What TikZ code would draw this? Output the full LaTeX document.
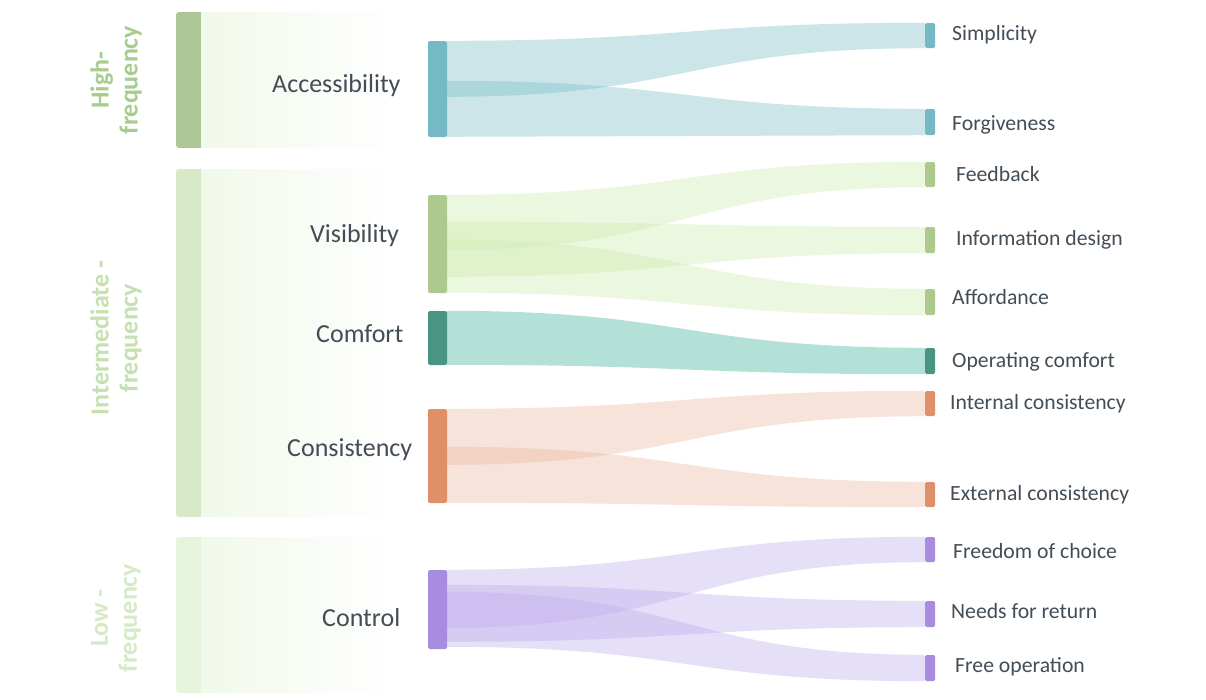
\documentclass[tikz,border=0pt]{standalone}
\usepackage{fontspec}
\setmainfont{Carlito}
\usetikzlibrary{calc}

\pgfdeclarelayer{paper}
\pgfdeclarelayer{ribbons}
\pgfsetlayers{paper,ribbons,main}

% palette
\definecolor{ink}{RGB}{67,77,86}
\definecolor{accN}{RGB}{116,185,196}
\definecolor{accF}{RGB}{125,192,202}
\definecolor{visN}{RGB}{173,201,142}
\definecolor{visF}{RGB}{207,235,177}
\definecolor{comN}{RGB}{74,148,132}
\definecolor{comF}{RGB}{68,180,155}
\definecolor{conN}{RGB}{223,144,104}
\definecolor{conF}{RGB}{235,185,160}
\definecolor{ctlN}{RGB}{167,140,224}
\definecolor{ctlF}{RGB}{192,175,235}
\definecolor{hiBar}{RGB}{173,198,152}
\definecolor{miBar}{RGB}{216,233,201}
\definecolor{loBar}{RGB}{232,245,222}
\definecolor{bandBg}{RGB}{239,248,232}
\definecolor{hiTxt}{RGB}{168,204,140}
\definecolor{miTxt}{RGB}{197,225,175}
\definecolor{loTxt}{RGB}{214,234,199}

% a sankey ribbon: source node, top/bottom offset on its right edge,
% target node (whole left edge), fill colour
\newcommand\sankeyflow[5]{%
  \coordinate (fa) at ([yshift=-#2pt]#1.north east);
  \coordinate (fb) at ([yshift=-#3pt]#1.north east);
  \coordinate (fc) at (#4.north west);
  \coordinate (fd) at (#4.south west);
  \coordinate (fm) at ($(fa)!.5!(fc)$);
  \fill[#5, fill opacity=.4]
    (fa) .. controls (fa -| fm) and (fc -| fm) .. (fc) -- (fd)
         .. controls (fd -| fm) and (fb -| fm) .. (fb) -- cycle;}

% a frequency band: coloured strip plus fading panel
\newcommand\freqband[3]{%
  \begin{scope}
    \clip[rounded corners=3pt] (176,#1) rectangle (398,#2);
    \shade[left color=bandBg, right color=white] (176,#1) rectangle (398,#2);
    \fill[#3] (176,#1) rectangle (201,#2);
  \end{scope}}

\begin{document}
\begin{tikzpicture}[x=1pt, y=-1pt,
  midbar/.style={rectangle, inner sep=0pt, minimum width=19pt, rounded corners=2pt},
  endbar/.style={rectangle, inner sep=0pt, minimum width=10pt, rounded corners=1.5pt},
  cat/.style={font=\fontsize{26}{30}\selectfont, text=ink, inner sep=0pt, anchor=base west},
  leaf/.style={font=\fontsize{21.7}{26}\selectfont, text=ink, inner sep=0pt, anchor=base west},
  band/.style={font=\bfseries\fontsize{26}{29}\selectfont, rotate=90, align=center, inner sep=0pt}]

\begin{pgfonlayer}{paper}
  \fill[white] (0,0) rectangle (1206,699);
\end{pgfonlayer}
\useasboundingbox (0,0) rectangle (1206,699);

% frequency bands
\freqband{12}{148}{hiBar}
\freqband{169}{517}{miBar}
\freqband{537}{693}{loBar}

\node[band, text=hiTxt] (hf) at (116,80) {High-\\frequency};
\node[band, text=miTxt] (mf) at (116,338) {Intermediate -\\frequency};
\node[band, text=loTxt] (lf) at (116,618) {Low -\\frequency};

% category labels
\node[cat] (accL) at (272,92) {Accessibility};
\node[cat] (visL) at (310,242) {Visibility};
\node[cat] (comL) at (316,342) {Comfort};
\node[cat] (conL) at (287,456) {Consistency};
\node[cat] (ctlL) at (322,626) {Control};

% category bars
\node[midbar, fill=accN, minimum height=96pt] (acc) at (437.5,89) {};
\node[midbar, fill=visN, minimum height=98pt] (vis) at (437.5,244) {};
\node[midbar, fill=comN, minimum height=54pt] (com) at (437.5,338) {};
\node[midbar, fill=conN, minimum height=94pt] (con) at (437.5,456) {};
\node[midbar, fill=ctlN, minimum height=79pt] (ctl) at (437.5,609.5) {};

% principle bars
\node[endbar, fill=accN, minimum height=25pt] (simp) at (930,35.5) {};
\node[endbar, fill=accN, minimum height=26pt] (forg) at (930,122) {};
\node[endbar, fill=visN, minimum height=25pt] (feed) at (930,174.5) {};
\node[endbar, fill=visN, minimum height=26pt] (info) at (930,240) {};
\node[endbar, fill=visN, minimum height=26pt] (aff)  at (930,302) {};
\node[endbar, fill=comN, minimum height=26pt] (opc)  at (930,361) {};
\node[endbar, fill=conN, minimum height=25pt] (intc) at (930,403.5) {};
\node[endbar, fill=conN, minimum height=25pt] (extc) at (930,494.5) {};
\node[endbar, fill=ctlN, minimum height=25pt] (choice) at (930,549.5) {};
\node[endbar, fill=ctlN, minimum height=26pt] (ret)  at (930,614) {};
\node[endbar, fill=ctlN, minimum height=26pt] (fop)  at (930,668) {};

% principle labels
\node[leaf] (simpL) at (952,40) {Simplicity};
\node[leaf] (forgL) at (952,130) {Forgiveness};
\node[leaf] (feedL) at (956,181) {Feedback};
\node[leaf] (infoL) at (956,245) {Information design};
\node[leaf] (affL)  at (952,304) {Affordance};
\node[leaf] (opcL)  at (952,367) {Operating comfort};
\node[leaf] (intcL) at (950,409) {Internal consistency};
\node[leaf] (extcL) at (950,500) {External consistency};
\node[leaf] (choiceL) at (953,558) {Freedom of choice};
\node[leaf] (retL)  at (951,618) {Needs for return};
\node[leaf] (fopL)  at (955,672) {Free operation};

% ribbons
\begin{pgfonlayer}{ribbons}
  \sankeyflow{acc}{0}{56}{simp}{accF}
  \sankeyflow{acc}{40}{96}{forg}{accF}
  \sankeyflow{vis}{0}{55}{feed}{visF}
  \sankeyflow{vis}{27}{82}{info}{visF}
  \sankeyflow{vis}{45}{98}{aff}{visF}
  \sankeyflow{com}{0}{54}{opc}{comF}
  \sankeyflow{con}{0}{56}{intc}{conF}
  \sankeyflow{con}{38}{94}{extc}{conF}
  \sankeyflow{ctl}{0}{58}{choice}{ctlF}
  \sankeyflow{ctl}{15}{72}{ret}{ctlF}
  \sankeyflow{ctl}{22}{77}{fop}{ctlF}
\end{pgfonlayer}
\end{tikzpicture}
\end{document}
